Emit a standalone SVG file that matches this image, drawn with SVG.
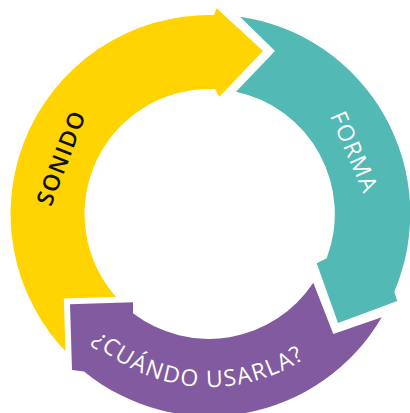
<svg xmlns="http://www.w3.org/2000/svg" width="410" height="413" viewBox="0 0 410 413">
  <style>
    .lbl { font-family: "Open Sans", "Liberation Sans", sans-serif; font-size: 23px; letter-spacing: 1.5px; }
    .dark { fill: #111111; font-weight: 600; }
    .light { fill: #ffffff; font-weight: 500; }
  </style>
  <defs>
    <path id="arcPurple" d="M53.4,288.5 A173,173 0 0 0 352.1,312.0"/>
  </defs>
  <rect width="410" height="413" fill="#ffffff"/>
  <g id="connectors">
    <g id="sonido">
      <path d="M81.6,366.4 A199,199 0 0 1 214,15.05 L216.7,8.3 L263,51 L219.3,96.7 L215,89.1 A125,125 0 0 0 125.9,306.9 Z" fill="#FFD400"/>
      <text class="lbl dark" transform="translate(61,158.5) rotate(-69)" x="0.8" y="8" text-anchor="middle">SONIDO</text>
    </g>
    <g id="cuando">
      <path d="M313.3,282.7 L333.3,334 L381.7,317.3 A199,199 0 0 1 84,371.5 L72,370 L70,304.3 L133,302.3 L133,313.2 A125,125 0 0 0 313.3,282.7 Z" fill="#825AA0" stroke="#ffffff" stroke-width="12" stroke-linejoin="miter" paint-order="stroke"/>
      <text class="lbl light"><textPath href="#arcPurple" startOffset="50%" text-anchor="middle">¿CUÁNDO USARLA?</textPath></text>
    </g>
    <g id="forma">
      <path d="M240,16.7 A199,199 0 0 1 394.3,291.7 L397.3,301 L338,323 L316.7,263.3 L326.7,258.3 A125,125 0 0 0 236,91.7 L275,51 Z" fill="#52B9B5"/>
      <text class="lbl light" transform="translate(354,151.5) rotate(66.6)" x="0.8" y="8" text-anchor="middle">FORMA</text>
    </g>
  </g>
</svg>
